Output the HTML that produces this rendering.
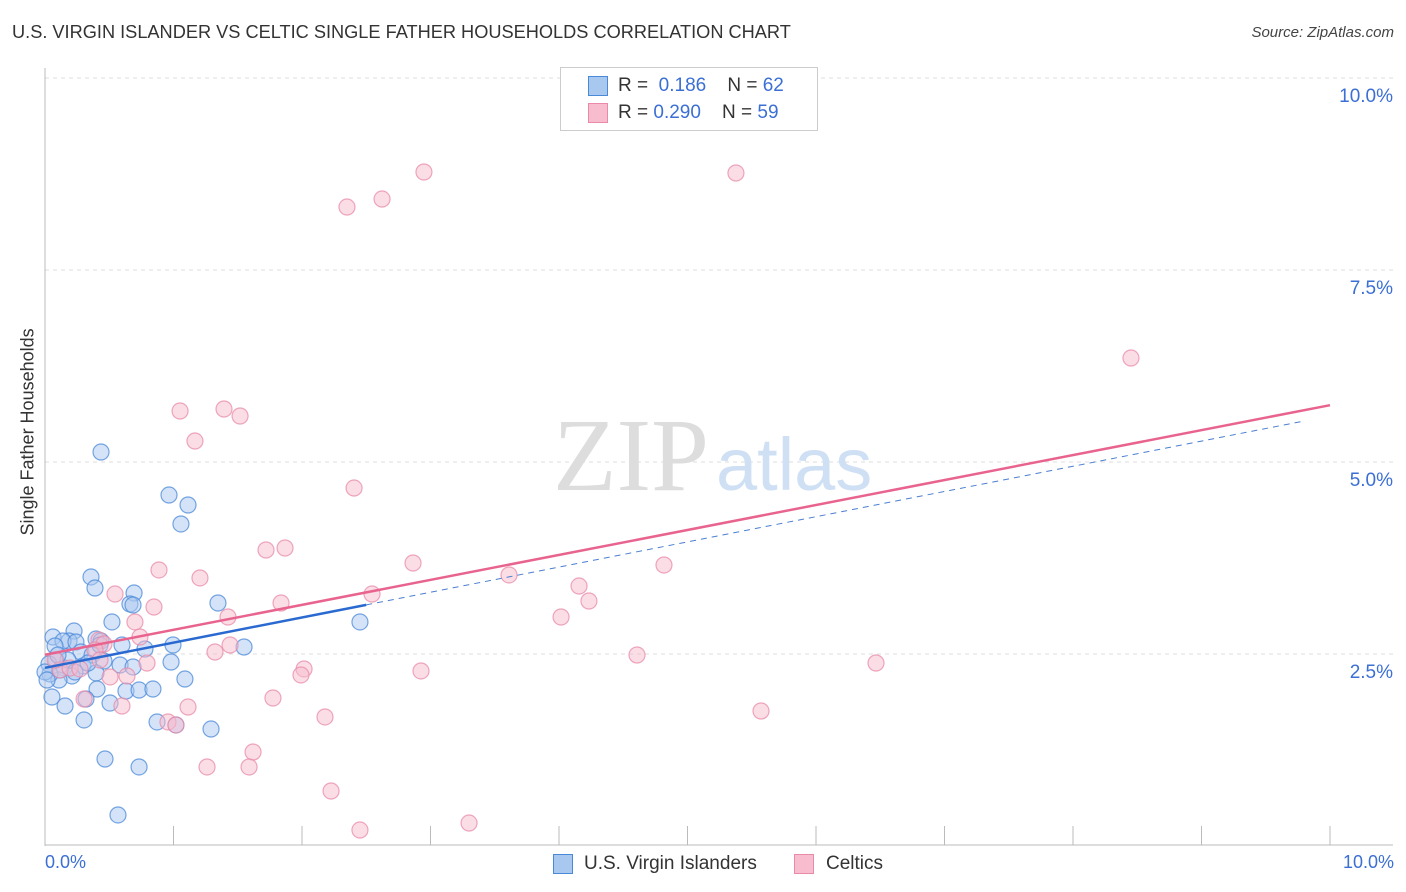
<!DOCTYPE html>
<html><head><meta charset="utf-8"><style>
body{margin:0;background:#fff;font-family:"Liberation Sans",sans-serif;}
#wrap{position:relative;width:1406px;height:892px;overflow:hidden}
.t{position:absolute;white-space:nowrap}
</style></head><body><div id="wrap">
<div class="t" style="left:12px;top:22px;font-size:18.2px;color:#333">U.S. VIRGIN ISLANDER VS CELTIC SINGLE FATHER HOUSEHOLDS CORRELATION CHART</div>
<div class="t" style="right:12px;top:24px;font-size:15px;color:#444;font-style:italic">Source: ZipAtlas.com</div>
<svg id="svg" width="1406" height="892" style="position:absolute;left:0;top:0"></svg>
</div>
<script>
const blueX=[],blueY=[],pinkX=[],pinkY=[];
const bluePx=[[101,452],[169,495],[188,505],[181,524],[91,577],[95,588],[134,593],[130,604],[133,605],[218,603],[360,622],[112,622],[74,631],[53,637],[69,641],[63,641],[96,639],[101,641],[76,642],[122,645],[173,645],[145,649],[55,646],[81,652],[92,655],[244,647],[104,661],[120,665],[133,667],[171,662],[56,660],[49,664],[64,668],[83,666],[96,673],[72,676],[185,679],[59,680],[50,674],[97,689],[126,691],[139,690],[153,689],[52,697],[86,699],[110,703],[65,706],[84,720],[157,722],[176,725],[211,729],[105,759],[139,767],[118,815],[45,672],[47,680],[60,670],[68,660],[75,672],[88,663],[100,645],[58,655]];
const pinkPx=[[424,172],[736,173],[382,199],[347,207],[1131,358],[180,411],[224,409],[240,416],[195,441],[354,488],[266,550],[285,548],[413,563],[159,570],[200,578],[664,565],[509,575],[579,586],[115,594],[372,594],[589,601],[154,607],[281,603],[228,617],[561,617],[135,622],[99,640],[140,637],[230,645],[215,652],[637,655],[104,644],[876,663],[147,663],[304,669],[301,675],[421,671],[110,677],[127,676],[60,670],[70,668],[80,669],[273,698],[84,699],[122,706],[188,707],[761,711],[325,717],[168,722],[176,725],[253,752],[207,767],[249,767],[331,791],[360,830],[469,823],[95,650],[100,660],[55,660]];
bluePx.forEach(p=>{blueX.push(+((p[0]-45)/128.5).toFixed(3));blueY.push(+((846-p[1])/76.8).toFixed(3));});
pinkPx.forEach(p=>{pinkX.push(+((p[0]-45)/128.5).toFixed(3));pinkY.push(+((846-p[1])/76.8).toFixed(3));});
const blueTrend=[2.32,0.328];
const pinkTrend=[2.49,0.325];
const yTicks=[2.5,5.0,7.5,10.0];
const yTickLabels=["2.5%","5.0%","7.5%","10.0%"];
const NS="http://www.w3.org/2000/svg";
const svg=document.getElementById('svg');
const X=v=>45+v*128.5, Y=v=>846-v*76.8;
function mk(t,a){const e=document.createElementNS(NS,t);for(const k in a)e.setAttribute(k,a[k]);svg.appendChild(e);return e;}
yTicks.forEach((v,i)=>{
 const g=mk('line',{x1:45,x2:1393,y1:Y(v),y2:Y(v),stroke:'#ddd','stroke-dasharray':'4,4'});
 
 
 const t=mk('text',{x:1393,y:Y(v)+24,'text-anchor':'end','font-size':19,fill:'#3b6fd4'});
 t.textContent=yTickLabels[i];
 
 
});
const ax=mk('line',{x1:45,x2:45,y1:68,y2:846,stroke:'#bbb'});


const bx=mk('line',{x1:45,x2:1393,y1:845,y2:845,stroke:'#bbb'});


for(let i=1;i<=10;i++){const tk=mk('line',{x1:X(i),x2:X(i),y1:826,y2:845,stroke:'#bbb'});

}
const wm=mk('text',{x:553,y:490,'font-size':104,fill:'#ddd','font-family':'Liberation Serif'});wm.textContent='ZIP';


const wm2=mk('text',{x:716,y:490,'font-size':74,fill:'#cfe0f5'});wm2.textContent='atlas';


function pts(xs,ys,f,s,n){xs.forEach((x,i)=>{const c=mk('circle',{cx:X(x),cy:Y(ys[i]),r:8,fill:f,'fill-opacity':0.5,stroke:s,'stroke-opacity':0.75,'stroke-width':1.2});

});}
pts(blueX,blueY,'#a9c8f0','#4a88d8','blue-point');
pts(pinkX,pinkY,'#f7bccd','#e88aa8','pink-point');
let l=mk('line',{x1:X(2.5),y1:Y(blueTrend[0]+blueTrend[1]*2.5),x2:X(9.8),y2:Y(blueTrend[0]+blueTrend[1]*9.8),stroke:'#4a7fd0','stroke-width':1,'stroke-dasharray':'6,5'});


l=mk('line',{x1:X(0),y1:Y(blueTrend[0]),x2:X(2.5),y2:Y(blueTrend[0]+blueTrend[1]*2.5),stroke:'#2a6ad0','stroke-width':2.5});


l=mk('line',{x1:X(0),y1:Y(pinkTrend[0]),x2:X(10),y2:Y(pinkTrend[0]+pinkTrend[1]*10),stroke:'#e8648f','stroke-width':2.5});


</script>
<div class="t" style="left:-52px;top:445px;transform:rotate(-90deg);font-size:18px;color:#333;width:160px;text-align:center">Single Father Households</div>
<div class="t" style="left:45px;top:852px;font-size:18px;color:#3b6fd4">0.0%</div>
<div class="t" style="right:12px;top:852px;font-size:18px;color:#3b6fd4">10.0%</div>
<div style="position:absolute;left:560px;top:67px;width:256px;height:62px;border:1px solid #ccc;background:#fff;font-size:19px;color:#333">
 <div style="position:absolute;left:27px;top:8px;width:18px;height:18px;background:#a9c8f0;border:1px solid #4a88d8"></div>
 <div class="t" style="left:57px;top:7px">R = <span style="color:#3b6fd4">&nbsp;0.186</span>&nbsp;&nbsp;&nbsp; N = <span style="color:#3b6fd4">62</span></div>
 <div style="position:absolute;left:27px;top:35px;width:18px;height:18px;background:#f7bccd;border:1px solid #e88aa8"></div>
 <div class="t" style="left:57px;top:34px">R = <span style="color:#3b6fd4">0.290</span>&nbsp;&nbsp;&nbsp; N = <span style="color:#3b6fd4">59</span></div>
</div>
<div style="position:absolute;left:0;top:852px;font-size:19px;color:#333">
 <div style="position:absolute;left:553px;top:2px;width:18px;height:18px;background:#a9c8f0;border:1px solid #4a88d8"></div>
 <div class="t" style="left:584px;top:1px">U.S. Virgin Islanders</div>
 <div style="position:absolute;left:794px;top:2px;width:18px;height:18px;background:#f7bccd;border:1px solid #e88aa8"></div>
 <div class="t" style="left:826px;top:1px">Celtics</div>
</div>
</body></html>
